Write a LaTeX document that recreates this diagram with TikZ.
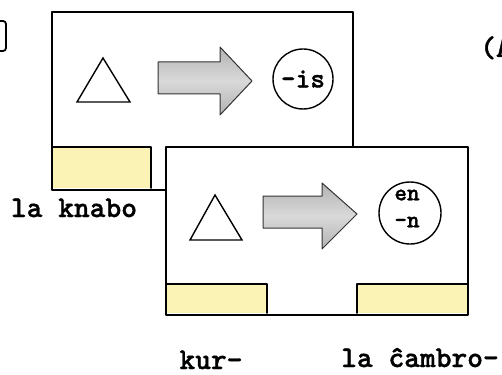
\documentclass[tikz,border=0pt]{standalone}
\usepackage{fontspec}
\newfontfamily\tw{lmmonolt10-bold.otf}[FakeBold=1.2]
\definecolor{barY}{RGB}{251,243,182}
\begin{document}
\begin{tikzpicture}[x=1pt,y=-1pt,
  box/.style={line width=1.8pt, line cap=round, line join=round},
  tri/.style={line width=1.4pt, line join=miter},
  arr/.style={draw=black!80, line width=1pt, line join=round, top color=gray!60, bottom color=gray!60, middle color=gray!30},
  ring/.style={circle, draw, line width=1.4pt, minimum size=60pt, inner sep=0pt},
  lab/.style={font=\fontsize{30}{30}\selectfont\tw, inner sep=0pt, anchor=base},
  small/.style={font=\fontsize{24}{24}\selectfont\tw, inner sep=0pt},
]
\useasboundingbox (0,0) rectangle (502,374);

% partial box at left edge
\draw[line width=1.8pt, rounded corners=3pt] (-20,21) rectangle (6,51);
% partial text at right edge
\node[lab, anchor=base west] (partA) at (480,57) {(A};

% ---- first panel ----
\fill[barY] (52,147) rectangle (151,188);
\draw[box] (151,188) -- (151,147) -- (52,147);
\draw[box] (353,147) -- (353,12) -- (52,12) -- (52,190) -- (166,190);
\draw[tri] (103,58) -- (130,102) -- (77,102) -- cycle;
\draw[arr] (158,62) -- (220,62) -- (220,47) -- (252,81) -- (220,115) -- (220,94) -- (158,94) -- cycle;
\node[ring, font=\fontsize{28}{28}\selectfont\tw] (c1) at (303,79) {-is};

% ---- second panel ----
\fill[barY] (166,284) rectangle (267,313);
\fill[barY] (357,284) rectangle (468,313);
\draw[box] (166,284) -- (267,284) -- (267,313);
\draw[box] (357,313) -- (357,284) -- (468,284);
\draw[box] (166,147) rectangle (468,315);
\draw[tri] (215,195) -- (242,240) -- (190,240) -- cycle;
\draw[arr] (263,196) -- (322,196) -- (322,183) -- (357,214) -- (322,249) -- (322,228) -- (263,228) -- cycle;
\node[ring, minimum size=62pt] (c2) at (410,213) {};
\node[small] (en) at (407,195) {en};
\node[small] (nn) at (407,222) {-n};

% ---- labels ----
\node[lab] (knabo) at (74,217) {la knabo};
\node[lab] (kur) at (211,369) {kur-};
\node[lab] (cambro) at (420,367) {la ĉambro-};
\end{tikzpicture}
\end{document}
